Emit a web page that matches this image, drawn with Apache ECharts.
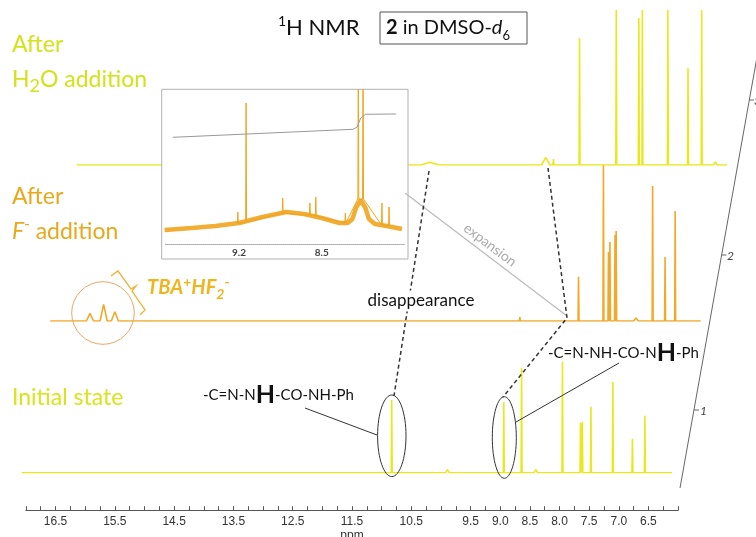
<!DOCTYPE html>
<html>
<head>
<meta charset="utf-8">
<script src="https://cdn.jsdelivr.net/npm/echarts@6/dist/echarts.min.js"></script>
<style>
html, body { margin: 0; background: #fff; }
#chart { width: 756px; height: 537px; }
</style>
</head>
<body>
<div id="chart"></div>
<script>
// tick labels on the ppm axis
const ppmLabels = [16.5, 15.5, 14.5, 13.5, 12.5, 11.5, 10.5, 9.5, 9.0, 8.5, 8.0, 7.5, 7.0, 6.5];

// initial state (trace 1)
const initPos = [10.83, 9.89, 8.94, 8.64, 8.40, 7.95, 7.645, 7.615, 7.47, 7.10, 6.77, 6.56];
const initHt  = [72.7, 3, 70.7, 105, 3, 111, 50, 51, 66, 91, 34, 57];
const initW   = [0.008, 0.03, 0.008, 0.008, 0.03, 0.008, 0.008, 0.008, 0.008, 0.008, 0.008, 0.008];

// after F- addition (trace 2)
const fPos = [16.40, 16.17, 15.98, 9.15, 8.16, 7.74, 7.655, 7.63, 7.545, 7.525, 7.19, 6.91, 6.70, 6.53];
const fHt  = [7.7, 16.7, 9.3, 4, 44.3, 156, 69, 79, 86, 90, 3, 135, 64, 110];
const fW   = [0.06, 0.06, 0.06, 0.008, 0.008, 0.008, 0.008, 0.008, 0.008, 0.008, 0.04, 0.008, 0.008, 0.008];

// after H2O addition (trace 3)
const wPos = [11.11, 9.16, 9.03, 8.59, 7.97, 7.59, 7.53, 7.10, 6.76, 6.53, 6.42, 6.30];
const wHt  = [2.7, 7.7, 6, 126.7, 155, 146.7, 155, 155, 96.7, 155, 2, 3];
const wW   = [0.15, 0.07, 0.008, 0.008, 0.008, 0.008, 0.008, 0.008, 0.008, 0.008, 0.03, 0.03];

// expansion inset: broad noisy hump and sharp lines
const humpX = [9.83, 9.6, 9.4, 9.2, 9.0, 8.8, 8.65, 8.5, 8.35, 8.28, 8.24, 8.21, 8.17, 8.13, 8.10, 8.05, 7.95, 7.82];
const humpY = [14, 16, 18, 21, 27, 32, 30, 26, 21, 21, 25, 36, 44, 36, 25, 20, 18, 15];
const inPeakPos  = [9.21, 9.14, 8.83, 8.60, 8.55, 8.30, 8.19, 8.15, 7.99, 7.93];
const inPeakBase = [20, 22, 31, 29, 28, 21, 45, 45, 19, 18];
const inPeakTop  = [32, 141, 46, 41, 47, 31, 200, 200, 41, 37];
const integX = [9.76, 8.235, 8.20, 8.17, 8.13, 7.87];
const integY = [106.7, 114.7, 117, 126, 129.7, 130];

function spectrum(pos, ht, wid) {
  const pts = [[17.07, 0]];
  pos.forEach(function (p, i) {
    pts.push([p + wid[i], 0], [p, ht[i]], [p - wid[i], 0]);
  });
  pts.push([6.1, 0]);
  return pts;
}

function insetPeaks() {
  const pts = [];
  inPeakPos.forEach(function (p, i) {
    pts.push([p + 0.004, inPeakBase[i]], [p, inPeakTop[i]], [p - 0.004, inPeakBase[i]]);
  });
  return pts;
}

const FONT = 'Lato, "Open Sans", sans-serif';
const YEL = '#e9e81f';
const ORA = '#f3a82a';

// stacked traces: baseline y and right shift
const base = [472.7, 321, 165];
const shift = [0, 28.5, 55];

const chart = echarts.init(document.getElementById('chart'));

const grids = [{ left: 25.9, width: 652.2, top: 510, height: 1 }];
const xAxes = [{
  type: 'value', gridIndex: 0, min: 6, max: 17, interval: 0.25, inverse: true,
  axisLine: { lineStyle: { color: '#555', width: 1 } },
  axisTick: { inside: true, length: 4, lineStyle: { color: '#555' } },
  splitLine: { show: false },
  axisLabel: {
    margin: 5, color: '#333', fontSize: 12, fontFamily: '"Liberation Sans Narrow", "Liberation Sans", sans-serif',
    formatter: function (v) {
      const s = v.toFixed(1);
      return ppmLabels.some(function (l) { return l.toFixed(1) === s; }) ? s : '';
    }
  },
  name: 'ppm', nameLocation: 'middle', nameGap: 19,
  nameTextStyle: { color: '#333', fontSize: 12, fontFamily: '"Liberation Sans Narrow", "Liberation Sans", sans-serif' }
}];
const yAxes = [{ type: 'value', gridIndex: 0, show: false, min: 0, max: 1 }];
const series = [{ type: 'scatter', xAxisIndex: 0, yAxisIndex: 0, data: [] }];

const traces = [
  [initPos, initHt, initW, YEL],
  [fPos, fHt, fW, ORA],
  [wPos, wHt, wW, YEL]
];
traces.forEach(function (t, k) {
  grids.push({ left: 19.97 + shift[k], width: 664.05, top: base[k] - 160, height: 160 });
  xAxes.push({ type: 'value', gridIndex: k + 1, min: 5.9, max: 17.1, inverse: true, show: false });
  yAxes.push({ type: 'value', gridIndex: k + 1, min: 0, max: 160, show: false });
  series.push({
    type: 'line', xAxisIndex: k + 1, yAxisIndex: k + 1, data: spectrum(t[0], t[1], t[2]),
    showSymbol: false, symbol: 'none', z: 2,
    lineStyle: { color: t[3], width: 1.6 }
  });
});

// inset grid (index 4)
grids.push({ left: 164.6, width: 239.8, top: 90, height: 154 });
xAxes.push({
  type: 'value', gridIndex: 4, min: 7.8, max: 9.83, interval: 0.7, inverse: true, z: 6,
  axisLine: { lineStyle: { color: '#aaa', type: 'dotted', width: 1 } },
  axisTick: { show: false }, splitLine: { show: false },
  axisLabel: {
    margin: 4, color: '#444', fontSize: 10, fontWeight: 'bold', fontFamily: FONT,
    formatter: function (v) { const s = v.toFixed(1); return (s === '9.2' || s === '8.5') ? s : ''; }
  }
});
yAxes.push({ type: 'value', gridIndex: 4, min: 0, max: 154, show: false });
series.push({
  type: 'line', xAxisIndex: 4, yAxisIndex: 4, z: 6, showSymbol: false, symbol: 'none',
  data: humpX.map(function (x, i) { return [x, humpY[i]]; }),
  lineStyle: { color: '#f0a41e', width: 4.5, opacity: 0.9 }
});
series.push({
  type: 'line', xAxisIndex: 4, yAxisIndex: 4, z: 7, showSymbol: false, symbol: 'none',
  data: insetPeaks(),
  lineStyle: { color: '#f0a41e', width: 1 }
});
series.push({
  type: 'line', xAxisIndex: 4, yAxisIndex: 4, z: 7, showSymbol: false, symbol: 'none',
  data: integX.map(function (x, i) { return [x, integY[i]]; }),
  lineStyle: { color: '#999', width: 1 }
});

function txt(x, y, text, rich) {
  return {
    type: 'text', z: 20,
    style: { x: x, y: y, text: text, rich: rich, textVerticalAlign: 'middle', fontFamily: FONT }
  };
}
function seg(x1, y1, x2, y2, style) {
  return { type: 'line', z: 20, shape: { x1: x1, y1: y1, x2: x2, y2: y2 }, style: style };
}
function tok(size, lh, fill, more) {
  return Object.assign({ fontSize: size, lineHeight: lh, fill: fill, fontFamily: FONT }, more || {});
}

const GRN = '#d2e31a';
const GOLD = '#e9a81c';
const labGreen = { a: tok(23, 30, GRN), s: tok(18, 18, GRN, { verticalAlign: 'bottom' }) };
const labOrange = { a: tok(23, 30, GOLD), i: tok(23, 30, GOLD, { fontStyle: 'italic' }),
                    p: tok(15, 15, GOLD, { verticalAlign: 'top' }) };
const nhRich = { a: tok(15, 26, '#111'), b: tok(25, 26, '#111', { fontWeight: 'bold' }) };
const TBA = '#f2b41c';
const tbaRich = { a: tok(20, 26, TBA, { fontWeight: 'bold', fontStyle: 'italic' }),
                  p: tok(14, 14, TBA, { verticalAlign: 'top', fontWeight: 'bold' }),
                  s: tok(14, 14, TBA, { verticalAlign: 'bottom', fontWeight: 'bold', fontStyle: 'italic' }) };

const dash = { stroke: '#333', lineWidth: 1.5, lineDash: [4, 3] };
const stackTick = { fill: '#444', fontSize: 12, fontStyle: 'italic', fontFamily: FONT, textVerticalAlign: 'middle' };

const graphic = [
  // inset frame
  { type: 'rect', z: 3, shape: { x: 161.7, y: 89.3, width: 246.3, height: 169.7 },
    style: { fill: '#fff', stroke: '#b0b0b0', lineWidth: 1 } },
  // title
  txt(278, 28, '{p|1}{a|H NMR}', { a: tok(22, 28, '#111'), p: tok(14, 14, '#111', { verticalAlign: 'top' }) }),
  { type: 'rect', z: 20, shape: { x: 380, y: 12, width: 147, height: 32 },
    style: { fill: 'none', stroke: '#555', lineWidth: 1 } },
  txt(386, 28, '{b|2}{a| in DMSO-}{i|d}{s|6}', {
    a: tok(20, 28, '#111'), b: tok(20, 28, '#111', { fontWeight: 'bold' }),
    i: tok(20, 28, '#111', { fontStyle: 'italic' }), s: tok(13, 13, '#111', { verticalAlign: 'bottom' }) }),
  // left labels
  txt(12, 45, '{a|After}', labGreen),
  txt(12, 80, '{a|H}{s|2}{a|O addition}', labGreen),
  txt(12, 197, '{a|After}', labOrange),
  txt(12, 232, '{i|F}{p|-}{a| addition}', labOrange),
  txt(12, 398, '{a|Initial state}', { a: tok(23, 30, '#d8e41c') }),
  // TBA marker
  { type: 'circle', z: 20, shape: { cx: 103, cy: 313, r: 31.3 },
    style: { fill: 'none', stroke: '#eaa866', lineWidth: 1 } },
  { type: 'polyline', z: 20,
    shape: { points: [[111, 276], [118, 271], [131, 289], [136, 286], [132, 291], [145, 310], [140, 315]] },
    style: { fill: 'none', stroke: '#f0b030', lineWidth: 1.3 } },
  txt(147, 288, '{a|TBA}{p|+}{a|HF}{s|2}{p|-}', tbaRich),
  // expansion guide
  seg(405, 193, 567, 316, { stroke: '#bbb', lineWidth: 1.2 }),
  { type: 'text', z: 20, x: 490, y: 245, rotation: -37 * Math.PI / 180,
    style: { x: 0, y: 0, text: 'expansion', fill: '#aaa', fontSize: 14, fontFamily: FONT,
             textAlign: 'center', textVerticalAlign: 'middle' } },
  // dashed tracking lines
  seg(429, 171, 394, 396, dash),
  { type: 'polyline', z: 20, shape: { points: [[548, 168], [567, 318], [503, 397]] },
    style: Object.assign({ fill: 'none' }, dash) },
  { type: 'text', z: 21,
    style: { x: 421, y: 301, text: 'disappearance', fill: '#111', fontSize: 17, fontFamily: FONT,
             textAlign: 'center', textVerticalAlign: 'middle', backgroundColor: '#fff', padding: [2, 2] } },
  // ellipses and assignments
  { type: 'ellipse', z: 20, shape: { cx: 391.8, cy: 435.8, rx: 14.2, ry: 40.8 },
    style: { fill: 'none', stroke: '#333', lineWidth: 1 } },
  { type: 'ellipse', z: 20, shape: { cx: 504.3, cy: 437.5, rx: 12, ry: 40.8 },
    style: { fill: 'none', stroke: '#333', lineWidth: 1 } },
  txt(203, 395, '{a|-C=N-N}{b|H}{a|-CO-NH-Ph}', nhRich),
  seg(305, 408, 377, 435, { stroke: '#333', lineWidth: 1 }),
  txt(548, 353, '{a|-C=N-NH-CO-N}{b|H}{a|-Ph}', nhRich),
  seg(619, 363, 516, 422, { stroke: '#333', lineWidth: 1 }),
  // tilted stack axis
  seg(680, 488, 757, 57, { stroke: '#666', lineWidth: 1 }),
  seg(694, 410, 699, 410, { stroke: '#666', lineWidth: 1 }),
  seg(721.5, 255, 726.5, 255, { stroke: '#666', lineWidth: 1 }),
  seg(749, 100, 754, 100, { stroke: '#666', lineWidth: 1 }),
  { type: 'text', z: 20, style: Object.assign({ x: 700, y: 411, text: '1' }, stackTick) },
  { type: 'text', z: 20, style: Object.assign({ x: 727, y: 256, text: '2' }, stackTick) },
  { type: 'text', z: 20, style: Object.assign({ x: 754, y: 101, text: '3' }, stackTick) }
];

chart.setOption({
  animation: false,
  backgroundColor: '#fff',
  grid: grids,
  xAxis: xAxes,
  yAxis: yAxes,
  series: series,
  graphic: graphic
});
</script>
</body>
</html>
